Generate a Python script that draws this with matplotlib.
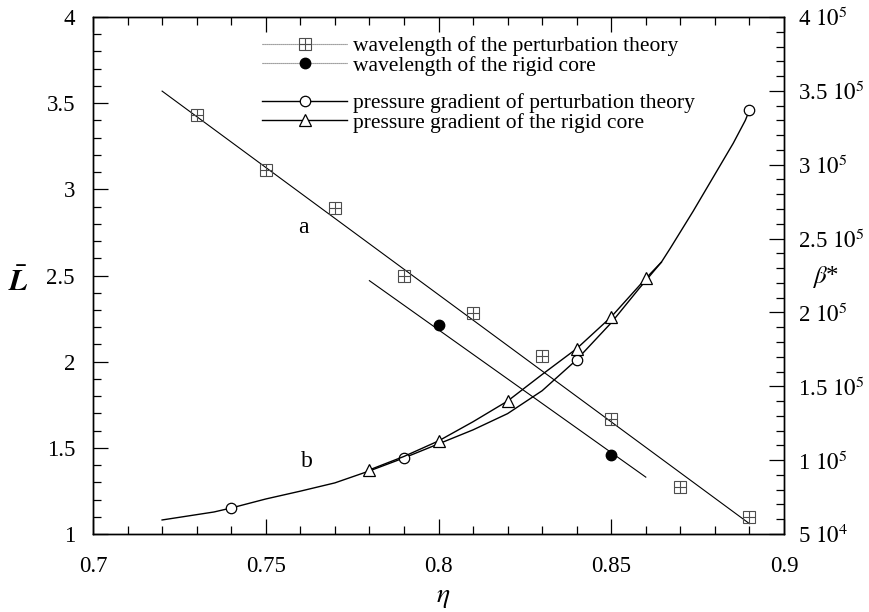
import math
import matplotlib
matplotlib.use('Agg')
import matplotlib.pyplot as plt
from matplotlib.lines import Line2D
from matplotlib.ticker import MultipleLocator, FuncFormatter

plt.rcParams['font.family'] = 'serif'
plt.rcParams['font.serif'] = ['Liberation Serif', 'DejaVu Serif']
plt.rcParams['mathtext.fontset'] = 'stix'

# wavelength of the perturbation theory (left axis)
eta_wl_pert = [0.73, 0.75, 0.77, 0.79, 0.81, 0.83, 0.85, 0.87, 0.89]
L_wl_pert = [3.43, 3.11, 2.89, 2.50, 2.28, 2.03, 1.67, 1.27, 1.10]
eta_line_a = [0.72, 0.89]
L_line_a = [3.57, 1.06]

# wavelength of the rigid core (left axis)
eta_wl_rigid = [0.80, 0.85]
L_wl_rigid = [2.21, 1.46]
eta_line_rigid = [0.78, 0.86]
L_line_rigid = [2.47, 1.33]

# pressure gradient of perturbation theory (right axis)
eta_pg_pert = [0.74, 0.79, 0.84, 0.89]
beta_pg_pert = [67.6e3, 101.5e3, 168e3, 337e3]
eta_pg_pert_curve = [0.72, 0.735, 0.74, 0.75, 0.76, 0.77, 0.78, 0.79, 0.80, 0.81,
                     0.82, 0.83, 0.84, 0.85, 0.858, 0.8645, 0.8671, 0.8737,
                     0.8795, 0.8853, 0.8888, 0.89]
beta_pg_pert_curve = [59.5e3, 64.9e3, 67.6e3, 73.7e3, 79e3, 84.6e3, 92.7e3, 101.5e3,
                      111e3, 120.5e3, 131.5e3, 147e3, 168e3, 193e3, 216e3, 234e3,
                      243.5e3, 268.5e3, 291.5e3, 314.5e3, 330e3, 337e3]

# pressure gradient of the rigid core (right axis)
eta_pg_rigid = [0.78, 0.80, 0.82, 0.84, 0.85, 0.86]
beta_pg_rigid = [93.4e3, 113e3, 140e3, 175.5e3, 197e3, 223e3]
eta_pg_rigid_curve = [0.78, 0.79, 0.80, 0.81, 0.82, 0.83, 0.84, 0.85, 0.86, 0.8645]
beta_pg_rigid_curve = [93.4e3, 102.5e3, 113e3, 126e3, 140e3, 158e3, 175.5e3,
                       197e3, 223e3, 234e3]

legend_labels = ['wavelength of the perturbation theory',
                 'wavelength of the rigid core',
                 'pressure gradient of perturbation theory',
                 'pressure gradient of the rigid core']

tick_fs = 16.5
grey = '0.3'

fig = plt.figure(figsize=(8.7, 6.12), dpi=100)
ax = fig.add_axes([93 / 870, 1 - 534 / 612, (784 - 93) / 870, (534 - 17) / 612])
ax2 = ax.twinx()

# wavelength curves
ax.plot(eta_line_a, L_line_a, color='k', lw=0.8)
ax.plot(eta_wl_pert, L_wl_pert, ls='none', marker='s', ms=8, mfc='none',
        mec=grey, mew=0.8)
ax.plot(eta_wl_pert, L_wl_pert, ls='none', marker='+', ms=8, mec=grey, mew=0.8)
ax.plot(eta_line_rigid, L_line_rigid, color='k', lw=0.8)
ax.plot(eta_wl_rigid, L_wl_rigid, ls='none', marker='o', ms=7.5, color='k')

# pressure gradient curves
ax2.plot(eta_pg_pert_curve, beta_pg_pert_curve, color='k', lw=1.0)
ax2.plot(eta_pg_pert, beta_pg_pert, ls='none', marker='o', ms=7.5, mfc='white',
         mec='k', mew=0.9)
ax2.plot(eta_pg_rigid_curve, beta_pg_rigid_curve, color='k', lw=1.0)
ax2.plot(eta_pg_rigid, beta_pg_rigid, ls='none', marker='^', ms=8.5, mfc='white',
         mec='k', mew=0.9)

ax.text(0.7608, 2.78, 'a', fontsize=17, ha='center', va='center')
ax.text(0.762, 1.42, 'b', fontsize=17, ha='center', va='center')

# axes, ticks
ax.set_xlim(0.7, 0.9)
ax.set_ylim(1, 4)
ax2.set_ylim(5e4, 4e5)
ax.xaxis.set_major_locator(MultipleLocator(0.05))
ax.xaxis.set_minor_locator(MultipleLocator(0.01))
ax.yaxis.set_major_locator(MultipleLocator(0.5))
ax.yaxis.set_minor_locator(MultipleLocator(0.1))
ax2.yaxis.set_major_locator(MultipleLocator(5e4))
ax2.yaxis.set_minor_locator(MultipleLocator(1e4))
ax.xaxis.set_major_formatter(FuncFormatter(lambda v, p: f'{v:g}'))
ax.yaxis.set_major_formatter(FuncFormatter(lambda v, p: f'{v:g}'))


def sci_label(v, pos):
    if v <= 0:
        return ''
    e = int(math.floor(math.log10(v) + 1e-9))
    m = round(v / 10 ** e, 3)
    return f'{m:g} $10^{{{e}}}$'


ax2.yaxis.set_major_formatter(FuncFormatter(sci_label))

ax.tick_params(which='both', direction='in', top=True, right=False,
               labelsize=tick_fs, width=0.9)
ax.tick_params(axis='x', which='major', length=11, pad=16)
ax.tick_params(axis='y', which='major', length=11, pad=13)
ax.tick_params(which='minor', length=5.5)
ax2.tick_params(which='both', direction='in', labelsize=tick_fs, width=0.9)
ax2.tick_params(which='major', length=11, pad=10)
ax2.tick_params(which='minor', length=5.5)
for a in (ax, ax2):
    for s in a.spines.values():
        s.set_linewidth(1.0)

ax.set_xlabel(r'$\eta$', fontsize=20)
ax.xaxis.set_label_coords((443 - 93) / 691, -(597 - 534) / 517)
ax.xaxis.label.set_va('center')
ax.set_ylabel(r'$\bar{\mathbfit{L}}$', fontsize=22, rotation=0)
ax.yaxis.set_label_coords((18 - 93) / 691, (534 - 283) / 517)
ax.yaxis.label.set_va('center')
ax2.set_ylabel(r'$\beta$*', fontsize=18, rotation=0)
ax2.yaxis.set_label_coords((825 - 93) / 691, (534 - 277) / 517)
ax2.yaxis.label.set_va('center')

# legend, in two groups with a gap between them
h_wl_pert = (Line2D([], [], color='0.4', lw=0.8, ls=(0, (1, 0.8))),
             Line2D([], [], ls='none', marker='s', ms=8, mfc='none', mec=grey, mew=0.8),
             Line2D([], [], ls='none', marker='+', ms=8, mec=grey, mew=0.8))
h_wl_rigid = Line2D([], [], color='0.4', lw=0.8, ls=(0, (1, 0.8)),
                    marker='o', ms=7.5, mfc='k', mec='k')
h_pg_pert = Line2D([], [], color='k', lw=1.0, marker='o', ms=7.5, mfc='white',
                   mec='k', mew=0.9)
h_pg_rigid = Line2D([], [], color='k', lw=1.0, marker='^', ms=8.5, mfc='white',
                    mec='k', mew=0.9)

leg_kw = dict(frameon=False, fontsize=15.5, handlelength=3.95, handletextpad=0.28,
              borderpad=0, borderaxespad=0, labelspacing=-0.02, loc='upper left',
              bbox_transform=fig.transFigure)
leg1 = ax2.legend([h_wl_pert, h_wl_rigid], legend_labels[:2],
                  bbox_to_anchor=(262 / 870, 1 - 36 / 612), **leg_kw)
ax2.add_artist(leg1)
ax2.legend([h_pg_pert, h_pg_rigid], legend_labels[2:],
           bbox_to_anchor=(262 / 870, 1 - 93 / 612), **leg_kw)

fig.savefig('out.png', dpi=100)
